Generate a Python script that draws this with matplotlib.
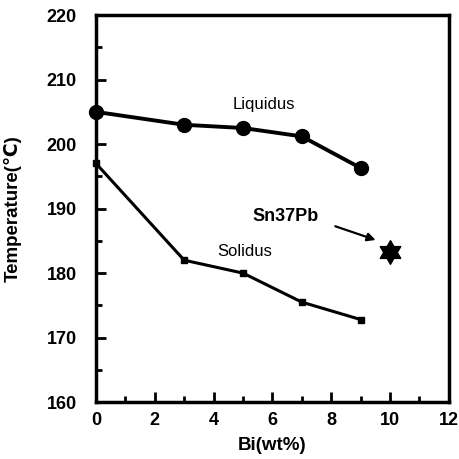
import matplotlib
matplotlib.use("Agg")
import numpy as np
import matplotlib.pyplot as plt
from matplotlib.ticker import MultipleLocator
from matplotlib.path import Path

plt.rcParams['font.family'] = ['Liberation Sans', 'DejaVu Sans']
plt.rcParams['font.weight'] = 'bold'

bi = [0, 3, 5, 7, 9]
liquidus = [205.0, 203.0, 202.5, 201.2, 196.3]
solidus = [197.0, 182.0, 180.0, 175.5, 172.8]
sn37pb_x = [10]
sn37pb_y = [183.3]

# six-pointed star marker shape
ang = np.pi / 2 + np.arange(12) * np.pi / 6
rad = np.where(np.arange(12) % 2 == 0, 1.0, 0.577)
verts = np.column_stack([rad * np.cos(ang), rad * np.sin(ang)])
verts = np.vstack([verts, verts[:1]])
hexagram = Path(verts, closed=True)

fig = plt.figure(figsize=(4.6, 4.59), dpi=100)
ax = fig.add_axes([0.2087, 0.124, 0.767, 0.843])

ax.plot(bi, liquidus, color='black', lw=2.8, marker='o', ms=10, clip_on=False, zorder=3)
ax.plot(bi, solidus, color='black', lw=2.2, marker='s', ms=4.5, clip_on=False, zorder=3)
ax.plot(sn37pb_x, sn37pb_y, linestyle='none', marker=hexagram, ms=17, color='black')

ax.text(5.7, 206.2, 'Liquidus', ha='center', va='center', fontsize=12, fontweight='normal')
ax.text(5.05, 183.3, 'Solidus', ha='center', va='center', fontsize=12, fontweight='normal')
ax.text(6.45, 188.7, 'Sn37Pb', ha='center', va='center', fontsize=13, fontweight='bold')
ax.annotate('', xy=(9.6, 185.0), xytext=(8.05, 187.4),
            arrowprops=dict(arrowstyle='-|>', color='black', lw=1.6, mutation_scale=12))

ax.set_xlim(0, 12)
ax.set_ylim(160, 220)
ax.xaxis.set_major_locator(MultipleLocator(2))
ax.xaxis.set_minor_locator(MultipleLocator(1))
ax.yaxis.set_major_locator(MultipleLocator(10))
ax.yaxis.set_minor_locator(MultipleLocator(5))
ax.tick_params(which='both', direction='in', top=False, right=False, width=2)
ax.tick_params(which='major', length=7, labelsize=13)
ax.tick_params(axis='y', which='major', pad=14)
ax.tick_params(axis='x', which='major', pad=7)
ax.tick_params(which='minor', length=4)
for lab in ax.get_xticklabels() + ax.get_yticklabels():
    lab.set_fontweight('bold')
for s in ax.spines.values():
    s.set_linewidth(2.5)

ax.set_xlabel('Bi(wt%)', fontsize=13.5, fontweight='bold', labelpad=6)
ax.set_ylabel('Temperature(℃)', fontsize=13.5, fontweight='bold', labelpad=18)

fig.savefig('out.png', dpi=100)
